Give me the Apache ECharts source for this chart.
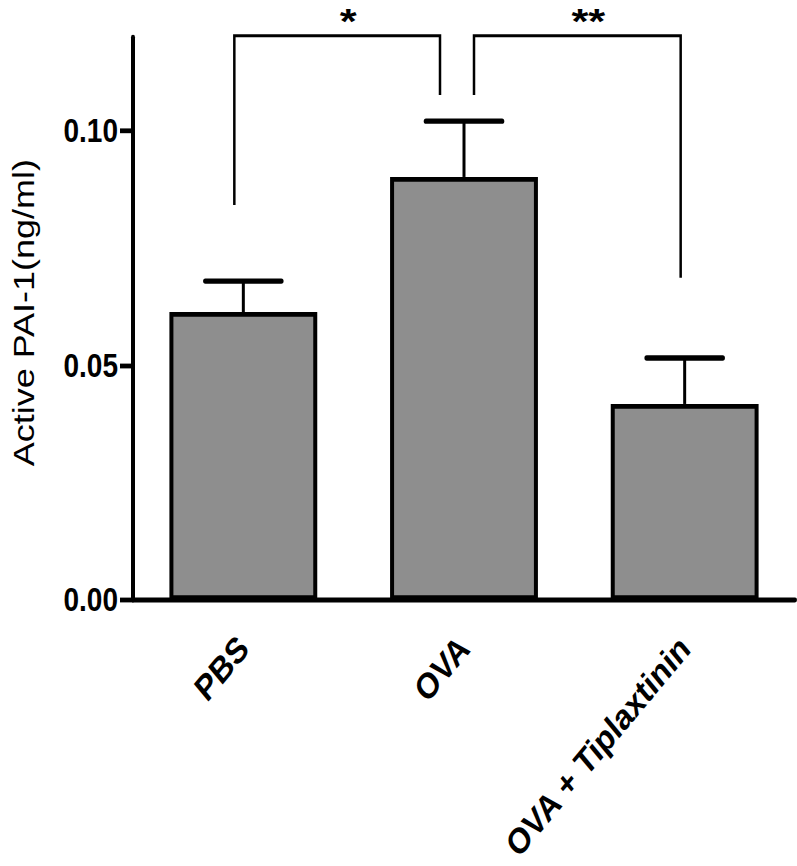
<!DOCTYPE html>
<html>
<head>
<meta charset="utf-8">
<script src="https://cdn.jsdelivr.net/npm/echarts@6/dist/echarts.min.js"></script>
<style>
html,body{margin:0;padding:0;background:#fff;overflow:hidden;width:797px;height:866px}
#c{width:797px;height:722px;transform:scaleY(1.2);transform-origin:0 0}
</style>
</head>
<body>
<div id="c"></div>
<script>
const categories = ['PBS', 'OVA', 'OVA + Tiplaxtinin'];
const means = [0.0614, 0.0902, 0.0418];
const errors = [0.0066, 0.0119, 0.0098];
const yTicks = [0, 0.05, 0.10];
// brackets: [leftCat, rightCat, topValue, leftLegEnd, rightLegEnd]
const brackets = [[0, 1, 0.1203, 0.0842, 0.1077], [1, 2, 0.1203, 0.1077, 0.0687]];
const stars = ['*', '**'];

const FONT = 'Liberation Sans, Arial, sans-serif';
const LEG_OFFSETS = [[-9, -24], [10, -4]];

const chart = echarts.init(document.getElementById('c'), null, { renderer: 'svg' });
chart.setOption({
  animation: false,
  textStyle: { fontFamily: FONT },
  grid: { left: 133, right: 2, top: 31, bottom: 222, containLabel: false },
  xAxis: {
    type: 'category',
    data: categories,
    axisLine: { lineStyle: { color: '#000', width: 4 } },
    axisTick: { alignWithLabel: true, length: 15, lineStyle: { color: '#000', width: 3 } },
    axisLabel: { rotate: 45, margin: 35, color: '#000', fontWeight: 'bold', fontSize: 30, fontFamily: FONT }
  },
  yAxis: {
    type: 'value',
    min: 0, max: 0.12, interval: 0.05,
    name: 'Active PAI-1(ng/ml)',
    nameLocation: 'middle', nameRotate: 90, nameGap: 94,
    nameTextStyle: { color: '#000', fontSize: 30, fontFamily: FONT, padding: [0, 0, 0, 10] },
    splitLine: { show: false },
    axisLine: { show: true, lineStyle: { color: '#000', width: 4 } },
    axisTick: { show: true, length: 13, customValues: yTicks, lineStyle: { color: '#000', width: 4 } },
    axisLabel: { customValues: yTicks, margin: 15, color: '#000', fontWeight: 'bold', fontSize: 28, fontFamily: FONT,
      formatter: v => v.toFixed(2) }
  },
  series: [
    {
      type: 'bar',
      data: means,
      barWidth: '67%',
      itemStyle: { color: '#8e8e8e', borderColor: '#000', borderWidth: 4 },
      z: 2
    },
    {
      type: 'custom',
      data: means.map((m, i) => [i, m, errors[i]]),
      z: 3,
      renderItem: function (params, api) {
        const i = api.value(0), m = api.value(1), e = api.value(2);
        const p0 = api.coord([i, m]);
        const p1 = api.coord([i, m + e]);
        return {
          type: 'group',
          children: [
            { type: 'line', shape: { x1: p0[0], y1: p0[1], x2: p1[0], y2: p1[1] }, style: { stroke: '#000', lineWidth: 3 } },
            { type: 'line', shape: { x1: p1[0] - 38, y1: p1[1], x2: p1[0] + 38, y2: p1[1] }, style: { stroke: '#000', lineWidth: 4.5, lineCap: 'round' } }
          ]
        };
      }
    },
    {
      type: 'custom',
      data: brackets,
      z: 4,
      clip: false,
      renderItem: function (params, api) {
        const idx = params.dataIndex;
        const a = api.value(0), b = api.value(1), top = api.value(2), le = api.value(3), re = api.value(4);
        const off = LEG_OFFSETS[idx];
        const pl = api.coord([a, top]), pr = api.coord([b, top]);
        const xl = pl[0] + off[0], xr = pr[0] + off[1];
        const yt = pl[1];
        const yl = api.coord([a, le])[1], yr = api.coord([b, re])[1];
        return {
          type: 'group',
          children: [
            { type: 'polyline', shape: { points: [[xl, yl], [xl, yt], [xr, yt], [xr, yr]] }, style: { stroke: '#000', fill: null, lineWidth: 2.5 } },
            { type: 'text', x: (xl + xr) / 2 + 11, y: 17, scaleX: 1.45, style: { text: stars[idx], fill: '#000', fontFamily: FONT, fontWeight: 'bold', fontSize: 30, align: 'center', verticalAlign: 'middle' } }
          ]
        };
      }
    }
  ]
});
</script>
</body>
</html>
